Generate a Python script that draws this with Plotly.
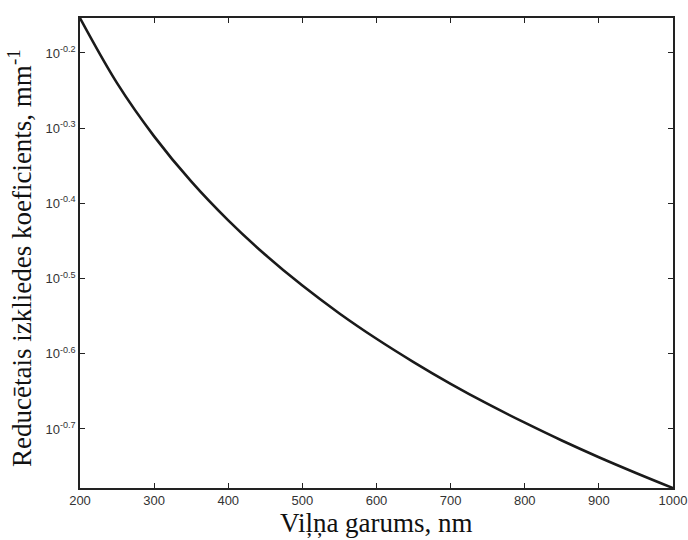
import plotly.graph_objects as go

wavelength_nm = [200, 250, 300, 350, 400, 450, 500, 550, 600, 650, 700, 750, 800, 850, 900, 950, 1000]
mu_s_reduced = [0.7020, 0.5752, 0.4888, 0.4258, 0.3779, 0.3401, 0.3095, 0.2842, 0.2630, 0.2449,
                0.2291, 0.2154, 0.2034, 0.1926, 0.1830, 0.1744, 0.1665]

x_ticks = [200, 300, 400, 500, 600, 700, 800, 900, 1000]
y_tick_exps = [-0.2, -0.3, -0.4, -0.5, -0.6, -0.7]
y_tick_vals = [10 ** e for e in y_tick_exps]
y_tick_text = [f"10<sup>{e}</sup>" for e in y_tick_exps]

x_title = "Viļņa garums, nm"
y_title = "Reducētais izkliedes koeficients, mm<sup>-1</sup>"

fig = go.Figure()
fig.add_trace(go.Scatter(
    x=wavelength_nm, y=mu_s_reduced, mode="lines",
    line=dict(color="#1a1a1a", width=2.6, shape="spline"),
    showlegend=False,
))

axis_common = dict(
    showline=True, linecolor="#222", linewidth=1.5, mirror="ticks",
    ticks="inside", ticklen=5, tickcolor="#222", tickwidth=1,
    showgrid=False, zeroline=False, automargin=False,
    ticklabeloverflow="allow",
    tickfont=dict(family="Liberation Sans, Arial", size=13, color="#333"),
)

fig.update_xaxes(range=[200, 1000], tickvals=x_ticks, **axis_common)
fig.update_yaxes(type="log", range=[-0.7785, -0.1535],
                 tickvals=y_tick_vals, ticktext=y_tick_text, **axis_common)

title_font = dict(family="Liberation Serif, Times New Roman", size=27, color="#111")
fig.add_annotation(text=x_title, xref="paper", yref="paper", x=0.5, y=0,
                   xanchor="center", yanchor="middle", yshift=-35,
                   showarrow=False, font=title_font)
fig.add_annotation(text=y_title, xref="paper", yref="paper", x=0, y=0.5,
                   xanchor="center", yanchor="middle", xshift=-60, yshift=-5,
                   textangle=-90, showarrow=False, font=title_font)

fig.update_layout(
    width=688, height=540,
    margin=dict(l=80, r=15, t=18, b=52),
    plot_bgcolor="white", paper_bgcolor="white",
)

# remove the default 8px page margin so the figure fills the window exactly
fig.write_html("out.html", config={"displayModeBar": False},
               post_script="document.body.style.margin='0';")
